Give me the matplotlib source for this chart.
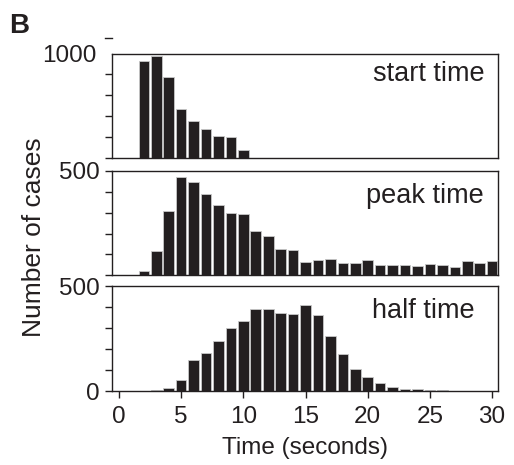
import numpy as np
import matplotlib.pyplot as plt

plt.rcParams['font.family'] = ['Liberation Sans', 'DejaVu Sans']

# time bins (seconds)
seconds = list(range(0, 31))

start_counts = [0, 0, 962, 986, 890, 736, 675, 640, 606, 600, 537,
                0, 0, 0, 0, 0, 0, 0, 0, 0, 0,
                0, 0, 0, 0, 0, 0, 0, 0, 0, 0]
peak_counts = [1, 2, 20, 115, 309, 471, 449, 390, 337, 298, 293,
               211, 188, 127, 120, 65, 73, 80, 60, 57, 75,
               49, 50, 49, 46, 54, 49, 40, 67, 57, 70]
half_counts = [0, 0, 1, 3, 14, 52, 146, 179, 238, 300, 335,
               391, 389, 371, 367, 408, 364, 260, 176, 105, 65,
               38, 19, 11, 9, 6, 3, 2, 2, 1, 0]

panel_names = ['start time', 'peak time', 'half time']
xticks = [0, 5, 10, 15, 20, 25, 30]

ink = '#231f20'
bar_kw = dict(width=0.85, color=ink, edgecolor='#c8c8c8', linewidth=0.6)

fig = plt.figure(figsize=(5.14, 4.65), dpi=100)
left, width = 0.2179, 0.7504
ax1 = fig.add_axes([left, 0.6602, width, 0.2247])
ax2 = fig.add_axes([left, 0.4080, width, 0.2243])
ax3 = fig.add_axes([left, 0.1591, width, 0.2258])

x = np.array(seconds)

# top panel starts at 500
start = np.array(start_counts)
ax1.bar(x, np.clip(start - 500, 0, None), bottom=500, **bar_kw)
ax1.set_ylim(500, 1000)
ax1.set_yticks([1000])
ax1.set_yticklabels(['1000'])
ax1.set_yticks([500, 600, 700, 800, 900], minor=True)
ax1.tick_params(axis='y', which='major', length=0, pad=11)
# stray tick above the panel, as in the original figure
ax1.plot([-0.018, 0], [1.148, 1.148], transform=ax1.transAxes, color=ink,
         lw=1, clip_on=False)

ax2.bar(x, peak_counts, **bar_kw)
ax2.set_ylim(0, 500)
ax2.set_yticks([500])
ax2.set_yticklabels(['500'])
ax2.set_yticks([0, 100, 200, 300, 400], minor=True)

ax3.bar(x, half_counts, **bar_kw)
ax3.set_ylim(0, 500)
ax3.set_yticks([0, 500])
ax3.set_yticks([100, 200, 300, 400], minor=True)
ax3.set_xticks(xticks)
ax3.tick_params(axis='x', direction='out', length=5, width=1, color=ink,
                labelsize=17.5, pad=6, labelcolor=ink)
ax3.set_xlabel('Time (seconds)', fontsize=17.5, color=ink, labelpad=6)

label_pos = [(0.965, 0.80), (0.965, 0.76), (0.94, 0.76)]
for ax, name, (tx, ty) in zip([ax1, ax2, ax3], panel_names, label_pos):
    ax.set_xlim(-0.56, 30.45)
    for sp in ax.spines.values():
        sp.set_color(ink)
        sp.set_linewidth(1)
    ax.tick_params(axis='y', which='both', direction='out', width=1,
                   color=ink, labelsize=17.5, labelcolor=ink)
    ax.tick_params(axis='y', which='minor', length=5)
    if ax is not ax1:
        ax.tick_params(axis='y', which='major', length=5, pad=4)
    if ax is not ax3:
        ax.set_xticks([])
    ax.text(tx, ty, name, transform=ax.transAxes, ha='right',
            va='center', fontsize=19.5, color=ink)

fig.text(0.066, 0.49, 'Number of cases', rotation=90, ha='center',
         va='center', fontsize=19, color=ink)
fig.text(0.018, 0.945, 'B', ha='left', va='center', fontsize=20,
         fontweight='bold', color=ink)

fig.savefig('out.png', dpi=100)
